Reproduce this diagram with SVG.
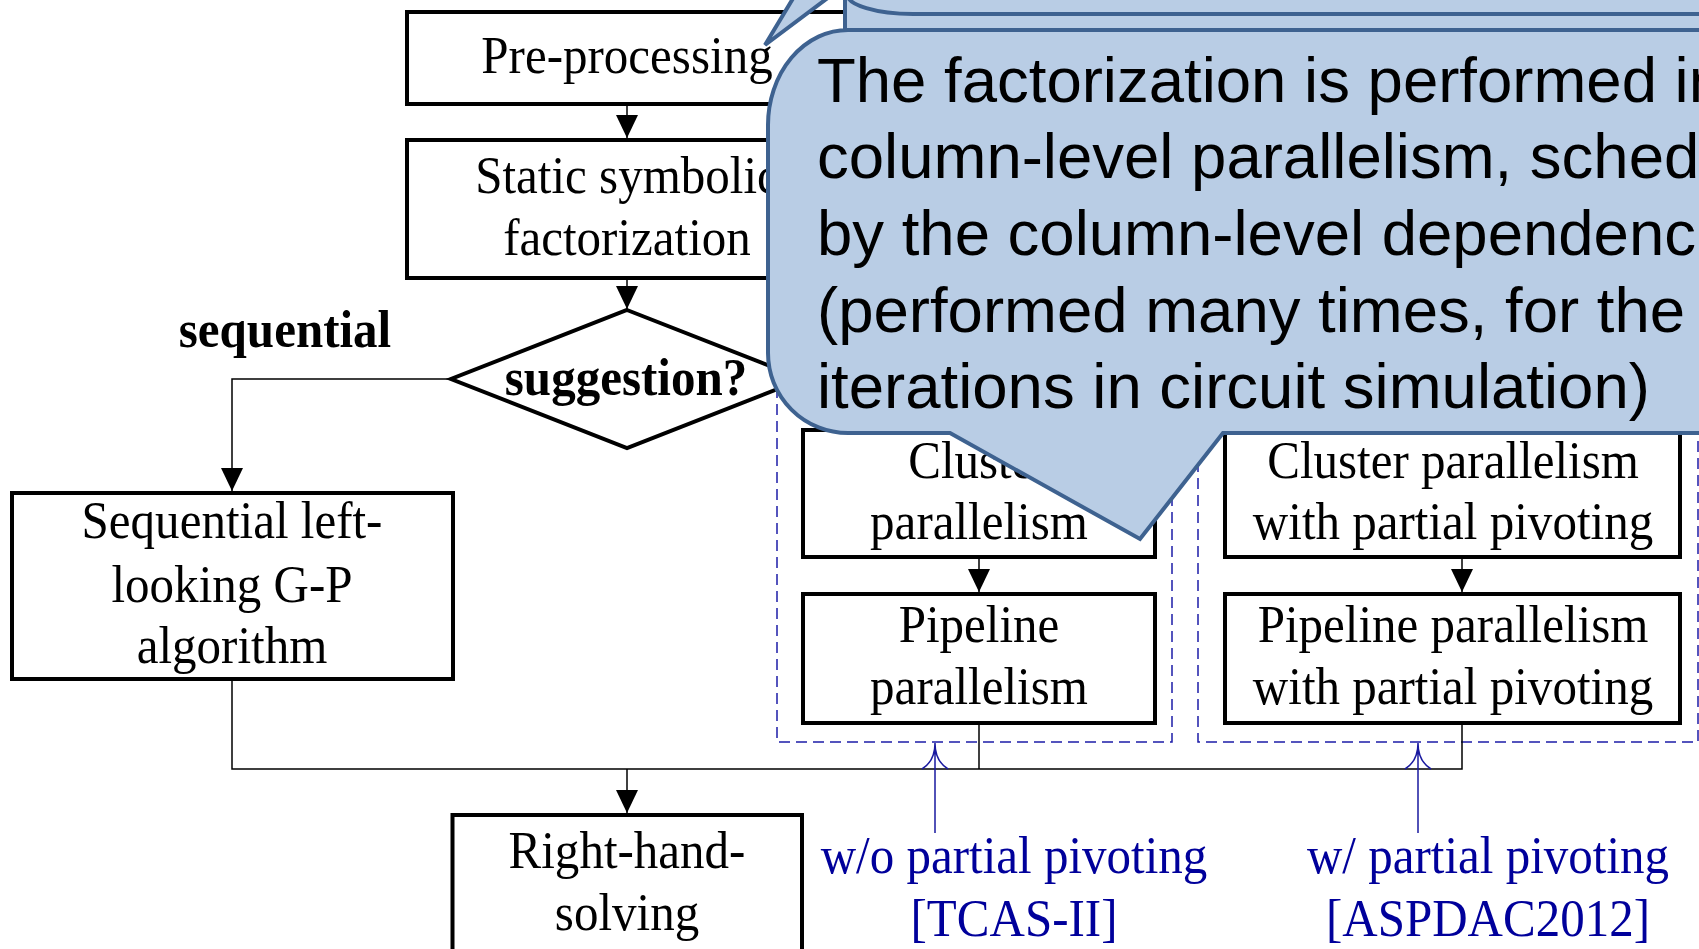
<svg xmlns="http://www.w3.org/2000/svg" width="1699" height="949" viewBox="0 0 1699 949">
<style>
.box{fill:#fff;stroke:#000;stroke-width:4}
.t{font-family:"Liberation Serif","Times New Roman",serif;font-size:53px;fill:#000;text-anchor:middle}
.b{font-weight:bold}
.blue{fill:#00009B}
.conn{fill:none;stroke:#000;stroke-width:1.5}
.dash{fill:none;stroke:#1C1CA8;stroke-width:1.5;stroke-dasharray:11 6}
.barrow{fill:none;stroke:#1A1AA0;stroke-width:1.5}
.callout{fill:#B9CDE5;stroke:#3E6290;stroke-width:4;stroke-linejoin:miter}
.ct{font-family:"Liberation Sans",Arial,sans-serif;font-size:63.5px;fill:#000}
</style>
<defs>
<marker id="ah" markerUnits="userSpaceOnUse" markerWidth="23" markerHeight="22" viewBox="0 0 23 22" refX="23" refY="11" orient="auto">
<path d="M0,0 L23,11 L0,22 Z" fill="#000"/>
</marker>
</defs>
<rect width="1699" height="949" fill="#fff"/>

<g id="group-without-pivoting"><rect class="dash" x="777" y="380" width="395" height="362"/></g>
<g id="group-with-pivoting"><rect class="dash" x="1198" y="380" width="500" height="362"/></g>

<g id="connectors">
<path class="conn" d="M627,104 V138" marker-end="url(#ah)"/>
<path class="conn" d="M627,278 V309" marker-end="url(#ah)"/>
<path class="conn" d="M451,379 H232 V491" marker-end="url(#ah)"/>
<path class="conn" d="M232,679 V769 H1462 V723"/>
<path class="conn" d="M979,723 V769"/>
<path class="conn" d="M627,769 V813" marker-end="url(#ah)"/>
<path class="conn" d="M979,557 V592" marker-end="url(#ah)"/>
<path class="conn" d="M1462,557 V592" marker-end="url(#ah)"/>
<path class="barrow" d="M935,833 V743 M922,769 Q935,761 935,743 Q935,761 948,769"/>
<path class="barrow" d="M1418,833 V743 M1405,769 Q1418,761 1418,743 Q1418,761 1431,769"/>
</g>

<g id="preprocessing"><rect class="box" x="407" y="12" width="440" height="92"/>
<text class="t" transform="translate(627,73) scale(0.925,1)">Pre-processing</text></g>

<g id="static-symbolic"><rect class="box" x="407" y="140" width="440" height="138"/>
<text class="t" transform="translate(627,193) scale(0.925,1)">Static symbolic</text>
<text class="t" transform="translate(627,255) scale(0.925,1)">factorization</text></g>

<g id="decision"><polygon class="box" points="627,310 803,379 627,448 451,379"/>
<text class="t b" transform="translate(626,395) scale(0.925,1)">suggestion?</text></g>

<g id="label-sequential"><text class="t b" transform="translate(285,347) scale(0.925,1)">sequential</text></g>

<g id="sequential-gp"><rect class="box" x="12" y="493" width="441" height="186"/>
<text class="t" transform="translate(232,538) scale(0.925,1)">Sequential left-</text>
<text class="t" transform="translate(232,602) scale(0.925,1)">looking G-P</text>
<text class="t" transform="translate(232,663) scale(0.925,1)">algorithm</text></g>

<g id="cluster"><rect class="box" x="803" y="430" width="352" height="127"/>
<text class="t" transform="translate(979,478) scale(0.925,1)">Cluster</text>
<text class="t" transform="translate(979,539) scale(0.925,1)">parallelism</text></g>

<g id="pipeline"><rect class="box" x="803" y="594" width="352" height="129"/>
<text class="t" transform="translate(979,642) scale(0.925,1)">Pipeline</text>
<text class="t" transform="translate(979,704) scale(0.925,1)">parallelism</text></g>

<g id="cluster-pp"><rect class="box" x="1225" y="430" width="455" height="127"/>
<text class="t" transform="translate(1453,478) scale(0.925,1)">Cluster parallelism</text>
<text class="t" transform="translate(1453,539) scale(0.925,1)">with partial pivoting</text></g>

<g id="pipeline-pp"><rect class="box" x="1225" y="594" width="455" height="129"/>
<text class="t" transform="translate(1453,642) scale(0.925,1)">Pipeline parallelism</text>
<text class="t" transform="translate(1453,704) scale(0.925,1)">with partial pivoting</text></g>

<g id="rhs"><rect class="box" x="452.5" y="815" width="349.5" height="150"/>
<text class="t" transform="translate(627,868) scale(0.925,1)">Right-hand-</text>
<text class="t" transform="translate(627,930) scale(0.925,1)">solving</text></g>

<g id="label-wo"><text class="t blue" transform="translate(1014,873) scale(0.925,1)">w/o partial pivoting</text>
<text class="t blue" transform="translate(1014,936) scale(0.925,1)">[TCAS-II]</text></g>

<g id="label-w"><text class="t blue" transform="translate(1488,873) scale(0.925,1)">w/ partial pivoting</text>
<text class="t blue" transform="translate(1488,936) scale(0.925,1)">[ASPDAC2012]</text></g>

<g id="callout-back"><path class="callout" d="M845,-200 L845,-88 L765,45 L845,-15 L845,150 L1760,150 L1760,-200 Z"/></g>
<g id="callout-middle"><path class="callout" d="M847,-300 L847,-6 A66,20 0 0 0 913,14 L1760,14 L1760,-300 Z"/></g>

<g id="callout-front">
<path class="callout" d="M847,30 L1760,30 L1760,433 L1223,433 L1140,539 L950,433 L848,433 A80,80 0 0 1 768,353 L768,125 A80,95 0 0 1 848,30 Z"/>
<text class="ct" x="817" y="102">The factorization is performed in</text>
<text class="ct" x="817" y="178">column-level parallelism, sched</text>
<text class="ct" x="817" y="255">by the column-level dependenc</text>
<text class="ct" x="817" y="332">(performed many times, for the</text>
<text class="ct" x="817" y="408">iterations in circuit simulation)</text>
</g>
</svg>
